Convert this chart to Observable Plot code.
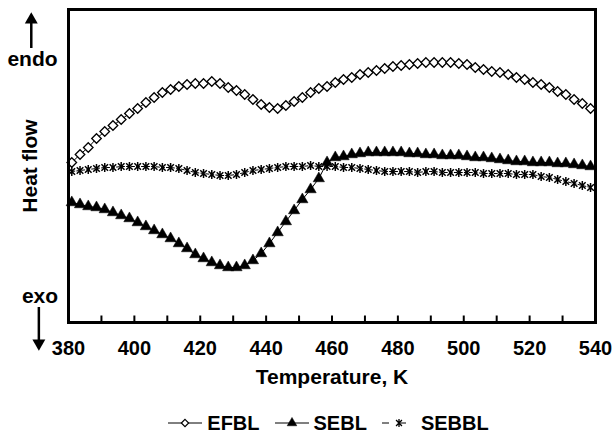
<!DOCTYPE html>
<html><head><meta charset="utf-8">
<script src="https://cdn.jsdelivr.net/npm/d3@7"></script>
<script src="https://cdn.jsdelivr.net/npm/@observablehq/plot@0.6"></script>
<style>
body{margin:0;background:#fff;font-family:"Liberation Sans",Arial,sans-serif;}
#chart{width:613px;}
.legend{display:flex;justify-content:center;align-items:center;gap:15px;margin-top:10px;padding-left:44px;font-weight:bold;font-size:20px;height:26px;color:#000;}
.item{display:flex;align-items:center;gap:5px;}
.item svg{display:block;}
</style></head><body><div id="chart"></div>
<script>
// Temperature (K) of each sampled point
const temperatures = [381,383.5,386,388.5,391,393.5,396,398.5,401,403.5,406,408.5,411,413.5,416,418.5,421,423.5,426,428.5,431,433.5,436,438.5,441,443.5,446,448.5,451,453.5,456,458.5,461,463.5,466,468.5,471,473.5,476,478.5,481,483.5,486,488.5,491,493.5,496,498.5,501,503.5,506,508.5,511,513.5,516,518.5,521,523.5,526,528.5,531,533.5,536,538.5];
// Heat flow (arbitrary units)
const efbl = [16.0,16.8,17.5,18.4,19.1,19.7,20.3,20.9,21.4,22.0,
  22.5,23.0,23.3,23.6,23.8,23.9,23.9,24.1,23.9,23.5,
  23.2,22.8,22.3,21.8,21.5,21.4,21.7,22.1,22.5,23.0,
  23.4,23.6,24.0,24.3,24.5,24.8,25.0,25.2,25.4,25.6,
  25.7,25.8,25.9,26.0,26.0,26.0,26.0,25.9,25.8,25.5,
  25.3,25.1,25.0,24.8,24.5,24.3,24.0,23.8,23.5,23.1,
  22.8,22.3,21.9,21.4];
const sebl = [12.0,11.8,11.6,11.5,11.3,11.0,10.7,10.4,10.0,9.6,
  9.2,8.8,8.4,7.9,7.4,6.8,6.4,6.0,5.7,5.5,
  5.5,5.7,6.2,6.9,7.9,9.0,10.1,11.2,12.3,13.3,
  14.4,16.0,16.5,16.6,16.8,16.9,17.0,17.0,17.0,17.0,
  17.0,16.9,16.9,16.8,16.8,16.7,16.7,16.7,16.6,16.5,
  16.5,16.4,16.3,16.2,16.1,16.1,16.0,16.0,16.0,15.9,
  15.9,15.8,15.7,15.6];
const sebbl = [15.1,15.2,15.3,15.4,15.5,15.5,15.6,15.6,15.6,15.6,
  15.6,15.5,15.5,15.4,15.2,15.0,14.9,14.8,14.7,14.7,
  14.8,15.0,15.2,15.3,15.4,15.5,15.6,15.6,15.6,15.7,
  15.6,15.6,15.6,15.5,15.5,15.4,15.3,15.2,15.1,15.1,
  15.1,15.1,15.0,15.1,15.1,15.0,15.0,15.0,15.0,15.0,
  14.9,14.9,14.9,14.9,14.8,14.8,14.8,14.6,14.5,14.3,
  14.1,13.9,13.7,13.5];
const seriesNames = ["EFBL", "SEBL", "SEBBL"];
const xTickLabels = [380,400,420,440,460,480,500,520,540];
const xTickMarks = [390,400,410,420,430,440,450,460,470,480,490,500,510,520,530];
// endo / exo arrows (x in K, y in a.u.)
const arrowX = [368.7, 371.0];
const arrowFrom = [27.4, 1.5];
const arrowTo = [30.0, -2.2];
const arrowHead = [30.27, -2.07];
const arrowRot = [0, 180];

const toRows = (vals) => temperatures.map((T, i) => ({T, value: vals[i]}));
const rE = toRows(efbl), rS = toRows(sebl), rB = toRows(sebbl);
const arrows = arrowX.map((x, i) => ({x, y1: arrowFrom[i], y2: arrowTo[i], h: arrowHead[i], rot: arrowRot[i]}));

// Excel-style star marker: an X with a vertical bar
const starSymbol = {
  draw(ctx, size) {
    const r = Math.sqrt(size / Math.PI) * 1.1, d = r * 0.75;
    ctx.moveTo(0, -r); ctx.lineTo(0, r);
    ctx.moveTo(-d, -d); ctx.lineTo(d, d);
    ctx.moveTo(-d, d); ctx.lineTo(d, -d);
  }
};

const font = {fontSize: 21, fontWeight: "bold", fill: "black", textAnchor: "middle"};

const plot = Plot.plot({
  width: 613, height: 400,
  marginTop: 9, marginBottom: 78, marginLeft: 68, marginRight: 18,
  x: {domain: [380, 540]},
  y: {domain: [0, 31.3], axis: null},
  style: {fontFamily: "'Liberation Sans', Arial, sans-serif", background: "white", overflow: "visible"},
  marks: [
    Plot.line(rB, {x: "T", y: "value", stroke: "black", strokeWidth: 1, strokeDasharray: "3,2"}),
    Plot.line(rS, {x: "T", y: "value", stroke: "black", strokeWidth: 1}),
    Plot.line(rE, {x: "T", y: "value", stroke: "black", strokeWidth: 1}),
    Plot.dot(rB, {x: "T", y: "value", symbol: starSymbol, r: 4.0, stroke: "black", strokeWidth: 1.5}),
    Plot.dot(rS, {x: "T", y: "value", symbol: "triangle", r: 4.2, fill: "black", stroke: "black", strokeWidth: 0.5}),
    Plot.dot(rE, {x: "T", y: "value", symbol: "diamond2", r: 4.3, fill: "white", stroke: "black", strokeWidth: 1.3}),
    Plot.ruleX(xTickMarks, {x: d => d, y1: 0, y2: 0.65, stroke: "black", strokeWidth: 2}),
    Plot.frame({stroke: "black", strokeWidth: 3}),
    Plot.axisX(xTickLabels, {tickSize: 0, tickPadding: 18, fontSize: 20, fontWeight: "bold", fill: "black", label: null}),
    Plot.text(["Temperature, K"], {frameAnchor: "bottom", lineAnchor: "bottom", dy: 61, ...font}),
    Plot.text(["Heat flow"], {frameAnchor: "left", rotate: -90, lineAnchor: "middle", dx: -38, ...font}),
    Plot.text(["endo"], {frameAnchor: "top-left", lineAnchor: "bottom", dx: -36, dy: 56, ...font}),
    Plot.text(["exo"], {frameAnchor: "bottom-left", lineAnchor: "bottom", dx: -28.5, dy: -20, ...font}),
    Plot.ruleX(arrows, {x: "x", y1: "y1", y2: "y2", stroke: "black", strokeWidth: 2.5}),
    Plot.dot(arrows, {x: "x", y: "h", symbol: "triangle", r: 4.8, fill: "black", rotate: "rot"})
  ]
});
document.getElementById("chart").appendChild(plot);

// Legend
const legend = document.createElement("div");
legend.className = "legend";
const ns = "http://www.w3.org/2000/svg";
const swatches = {
  EFBL: {symbol: d3.symbolDiamond2, size: 34, fill: "white", dash: null, sw: 1.2},
  SEBL: {symbol: d3.symbolTriangle, size: 40, fill: "black", dash: null, sw: 0.5},
  SEBBL: {symbol: starSymbol, size: 40, fill: "none", dash: "7,10", sw: 1.3}
};
seriesNames.forEach(name => {
  const s = swatches[name];
  const item = document.createElement("div");
  item.className = "item";
  const svg = document.createElementNS(ns, "svg");
  svg.setAttribute("width", 34); svg.setAttribute("height", 14);
  const line = document.createElementNS(ns, "line");
  line.setAttribute("x1", 0); line.setAttribute("x2", 34);
  line.setAttribute("y1", 7); line.setAttribute("y2", 7);
  line.setAttribute("stroke", "black"); line.setAttribute("stroke-width", 1);
  if (s.dash) line.setAttribute("stroke-dasharray", s.dash);
  svg.appendChild(line);
  const p = document.createElementNS(ns, "path");
  p.setAttribute("d", d3.symbol(s.symbol, s.size)());
  p.setAttribute("transform", "translate(17,7)");
  p.setAttribute("fill", s.fill); p.setAttribute("stroke", "black");
  p.setAttribute("stroke-width", s.sw);
  svg.appendChild(p);
  item.appendChild(svg);
  const label = document.createElement("span");
  label.textContent = name;
  item.appendChild(label);
  legend.appendChild(item);
});
document.getElementById("chart").appendChild(legend);
</script>
</body></html>
